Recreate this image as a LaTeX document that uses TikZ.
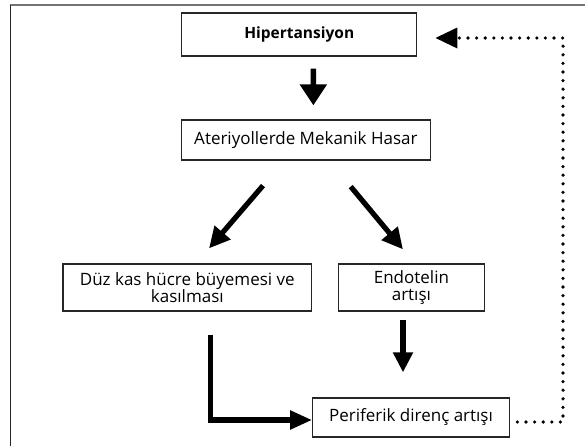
\documentclass[tikz,border=0pt]{standalone}
\usepackage{fontspec}
\setmainfont{Open Sans}
\usetikzlibrary{arrows.meta}
\begin{document}
\begin{tikzpicture}[x=1pt,y=1pt,
  box/.style={draw=black!85, line width=1.2pt, inner sep=0pt, align=center, font=\fontsize{17}{17}\selectfont},
  bigarrow/.style={line width=5.5pt, -{Triangle[length=21pt,width=26pt]}},
  midarrow/.style={line width=5.2pt, -{Triangle[length=21pt,width=20pt]}},
  dotarrow/.style={line width=3.6pt, line cap=round, dash pattern=on 0pt off 8.6pt, -{Triangle[length=22pt,width=20pt]}}]
\useasboundingbox (0,0) rectangle (585,446);
\draw[black!55, line width=2pt] (10,441) -- (585,441);
\draw[black!85, line width=1.5pt] (10.7,441) -- (10.7,0);
\node[box, minimum width=235pt, minimum height=43pt, font=\fontsize{15.5}{17}\selectfont\bfseries] (H) at (299.25,411.5) {Hipertansiyon};
\node[box, minimum width=248.7pt, minimum height=40pt] (A) at (305.9,306) {Ateriyollerde Mekanik Hasar};
\node[box, minimum width=248.6pt, minimum height=47pt] (D) at (187.3,158.5) {Düz kas hücre büyemesi ve\\kasılması};
\node[box, minimum width=146pt, minimum height=47pt] (E) at (411.4,158.5) {Endotelin\\artışı};
\node[box, minimum width=196.6pt, minimum height=39pt] (P) at (411,28.5) {Periferik direnç artışı};
\draw[bigarrow, shorten <=12pt, shorten >=14pt] ([xshift=14pt]H.south) -- ([xshift=7.5pt]A.north);
\draw[midarrow] ([xshift=-42.9pt,yshift=-25pt]A.south) -- ([xshift=21.7pt,yshift=15pt]D.north);
\draw[midarrow] ([xshift=44.8pt,yshift=-26pt]A.south) -- ([xshift=-8.4pt,yshift=14pt]E.north);
\draw[midarrow, -{Triangle[length=20pt,width=19pt]}] ([xshift=-8.4pt,yshift=-8pt]E.south) -- ([xshift=-8pt,yshift=25pt]P.north);
\draw[midarrow, -{Triangle[length=22pt,width=18pt]}] ([xshift=23.5pt,yshift=-23pt]D.south) |- ([yshift=-2.5pt]P.west);
\coordinate (fb) at (563,408);
\draw[dotarrow] ([xshift=7.5pt,yshift=-4.5pt]P.east) -| (fb) -- ([xshift=18pt,yshift=-3.5pt]H.east);
\end{tikzpicture}
\end{document}
